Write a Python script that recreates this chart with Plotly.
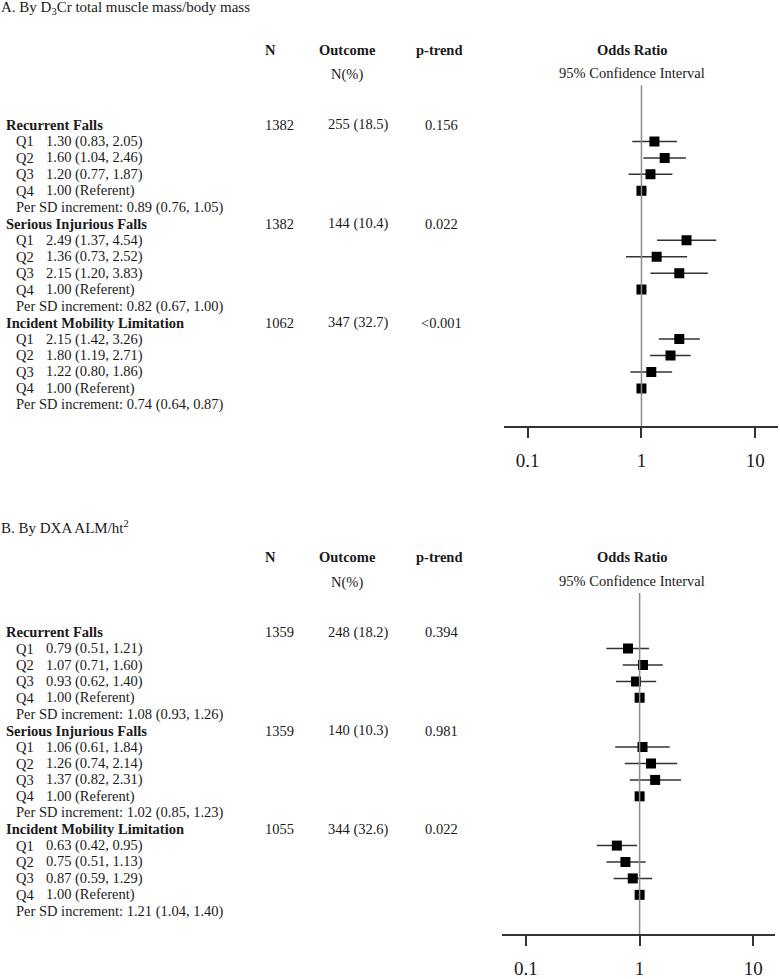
import plotly.graph_objects as go

FONT = "Liberation Serif"
W, H = 780, 979
TXT = "#1a1a1a"

outcomes = ["Recurrent Falls", "Serious Injurious Falls", "Incident Mobility Limitation"]
quartiles = ["Q1", "Q2", "Q3", "Q4"]

# ---------------- Panel A: D3Cr total muscle mass/body mass ----------------
a_title = "A. By D<sub>3</sub>Cr total muscle mass/body mass"
a_n = [1382, 1382, 1062]
a_events = ["255 (18.5)", "144 (10.4)", "347 (32.7)"]
a_ptrend = ["0.156", "0.022", "<0.001"]
a_or = [[1.30, 1.60, 1.20, 1.00], [2.49, 1.36, 2.15, 1.00], [2.15, 1.80, 1.22, 1.00]]
a_lo = [[0.83, 1.04, 0.77, None], [1.37, 0.73, 1.20, None], [1.42, 1.19, 0.80, None]]
a_hi = [[2.05, 2.46, 1.87, None], [4.54, 2.52, 3.83, None], [3.26, 2.71, 1.86, None]]
a_sd_or = [0.89, 0.82, 0.74]
a_sd_lo = [0.76, 0.67, 0.64]
a_sd_hi = [1.05, 1.00, 0.87]

# ---------------- Panel B: DXA ALM/ht2 ----------------
b_title = "B. By DXA ALM/ht<sup>2</sup>"
b_n = [1359, 1359, 1055]
b_events = ["248 (18.2)", "140 (10.3)", "344 (32.6)"]
b_ptrend = ["0.394", "0.981", "0.022"]
b_or = [[0.79, 1.07, 0.93, 1.00], [1.06, 1.26, 1.37, 1.00], [0.63, 0.75, 0.87, 1.00]]
b_lo = [[0.51, 0.71, 0.62, None], [0.61, 0.74, 0.82, None], [0.42, 0.51, 0.59, None]]
b_hi = [[1.21, 1.60, 1.40, None], [1.84, 2.14, 2.31, None], [0.95, 1.13, 1.29, None]]
b_sd_or = [1.08, 1.02, 1.21]
b_sd_lo = [0.93, 0.85, 1.04]
b_sd_hi = [1.26, 1.23, 1.40]

x_ticks = [0.1, 1, 10]
x_ticktext = ["0.1", "1", "10"]

fig = go.Figure()
annotations = []


def fy(px):
    return 1 - px / H


def ann(text, xpx, y, yref="paper", xanchor="left", bold=False, size=14.5):
    if bold:
        text = "<b>" + text + "</b>"
    if xanchor == "left":
        xpx -= 2
    annotations.append(dict(
        text=text, x=xpx / W, xref="paper", y=y, yref=yref,
        xanchor=xanchor, yanchor="middle", showarrow=False, borderpad=0,
        font=dict(family=FONT, size=size, color=TXT)))


panels = [
    dict(title=a_title, n=a_n, ev=a_events, pt=a_ptrend, orr=a_or, lo=a_lo, hi=a_hi,
         sd=(a_sd_or, a_sd_lo, a_sd_hi), xa="x", ya="y", top_px=0, first_row=126.0,
         step=16.6, line_top=86, axis_px=430, x0=504, x1=778, title_px=8,
         rng=[-1.208, 1.2]),
    dict(title=b_title, n=b_n, ev=b_events, pt=b_ptrend, orr=b_or, lo=b_lo, hi=b_hi,
         sd=(b_sd_or, b_sd_lo, b_sd_hi), xa="x2", ya="y2", top_px=512, first_row=637.4,
         step=16.55, line_top=598, axis_px=941.7, x0=502.3, x1=775.3, title_px=531,
         rng=[-1.2085, 1.194]),
]

layout_axes = {}
for i, p in enumerate(panels):
    r_top = (p["line_top"] - p["first_row"]) / p["step"]
    r_bot = (p["axis_px"] - p["first_row"]) / p["step"]
    yref = p["ya"]

    # titles and column headers
    ann(p["title"], 2, fy(p["title_px"]), size=15)
    hdr = p["top_px"] + 50
    ann("N", 270, fy(hdr), xanchor="center", bold=True)
    ann("Outcome", 347, fy(hdr), xanchor="center", bold=True)
    ann("p-trend", 439, fy(hdr), xanchor="center", bold=True)
    ann("Odds Ratio", 632, fy(hdr), xanchor="center", bold=True)
    ann("N(%)", 347, fy(hdr + 25), xanchor="center")
    ann("95% Confidence Interval", 632, fy(hdr + 24), xanchor="center")

    xs, ys, ep, em = [], [], [], []
    for k, name in enumerate(outcomes):
        base = 6 * k
        ann(name, 7, base, yref=yref, bold=True)
        ann(str(p["n"][k]), 279, base, yref=yref, xanchor="center")
        ann(p["ev"][k], 358, base, yref=yref, xanchor="center")
        ann(p["pt"][k], 441, base, yref=yref, xanchor="center")
        for q in range(4):
            o, l, h = p["orr"][k][q], p["lo"][k][q], p["hi"][k][q]
            ann(quartiles[q], 17, base + 1 + q, yref=yref)
            if l is None:
                txt = f"{o:.2f} (Referent)"
            else:
                txt = f"{o:.2f} ({l:.2f}, {h:.2f})"
            ann(txt, 47, base + 1 + q, yref=yref)
            xs.append(o)
            ys.append(base + 1 + q)
            ep.append(0 if h is None else h - o)
            em.append(0 if l is None else o - l)
        so, sl, sh = p["sd"][0][k], p["sd"][1][k], p["sd"][2][k]
        ann(f"Per SD increment: {so:.2f} ({sl:.2f}, {sh:.2f})", 17, base + 5, yref=yref)

    fig.add_trace(go.Scatter(
        x=xs, y=ys, mode="markers", xaxis=p["xa"], yaxis=p["ya"],
        marker=dict(symbol="square", size=10, color="black"),
        error_x=dict(type="data", symmetric=False, array=ep, arrayminus=em,
                     width=0, thickness=1.5, color="#333333"),
        showlegend=False, hoverinfo="skip"))
    # reference line at OR = 1 (drawn above markers)
    fig.add_trace(go.Scatter(
        x=[1, 1], y=[r_top, r_bot], mode="lines", xaxis=p["xa"], yaxis=p["ya"],
        line=dict(color="#8c8c8c", width=1.5), showlegend=False, hoverinfo="skip",
        cliponaxis=False))

    sfx = "" if i == 0 else "2"
    layout_axes["xaxis" + sfx] = dict(
        type="log", range=p["rng"], domain=[p["x0"] / W, p["x1"] / W],
        anchor="y" + sfx, tickvals=x_ticks, ticktext=x_ticktext,
        ticks="outside", ticklen=10, tickwidth=1.5, tickcolor="#333333",
        showline=True, linecolor="#333333", linewidth=1.5,
        showgrid=False, zeroline=False, ticklabelstandoff=6,
        tickfont=dict(family=FONT, size=19, color=TXT), fixedrange=True)
    layout_axes["yaxis" + sfx] = dict(
        range=[r_bot, r_top], domain=[fy(p["axis_px"]), fy(p["line_top"])],
        anchor="x" + sfx, visible=False, fixedrange=True)

fig.update_layout(
    width=W, height=H, autosize=False,
    margin=dict(l=0, r=0, t=0, b=0),
    paper_bgcolor="white", plot_bgcolor="white",
    annotations=annotations, showlegend=False,
    font=dict(family=FONT, color=TXT),
    **layout_axes)

fig.write_html("out.html", config={"displayModeBar": False},
               post_script="document.body.style.margin='0';document.body.style.padding='0';")
